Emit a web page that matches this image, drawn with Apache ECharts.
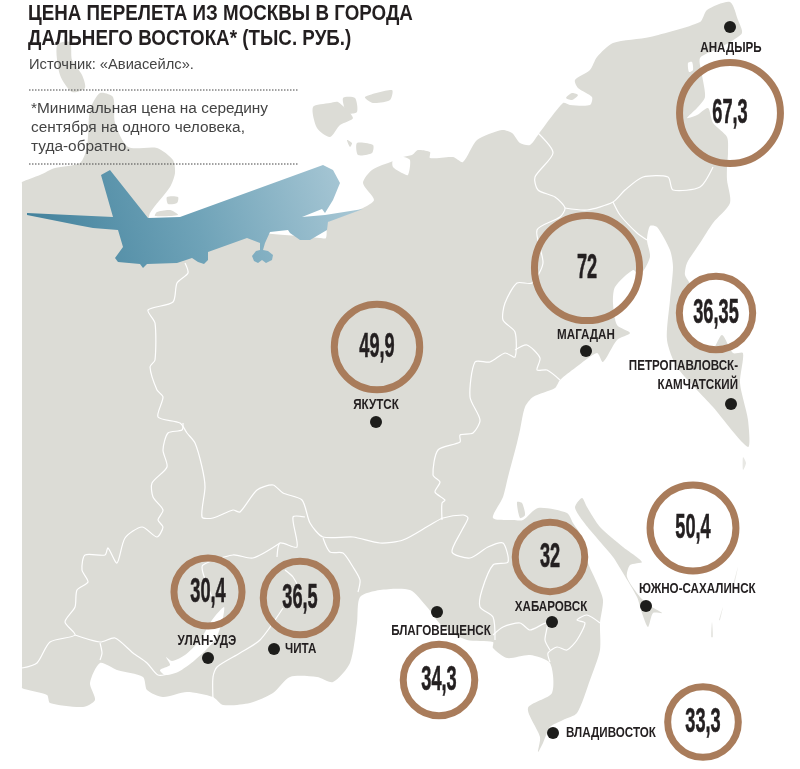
<!DOCTYPE html>
<html><head><meta charset="utf-8">
<style>html,body{margin:0;padding:0;background:#fff}#c{width:800px;height:769px}</style>
<script src="https://cdn.jsdelivr.net/npm/echarts@6/dist/echarts.min.js"></script>
</head><body><div id="c"></div>
<script>
// ---- data ----
const cities = ['АНАДЫРЬ','МАГАДАН','ПЕТРОПАВЛОВСК-\nКАМЧАТСКИЙ','ЯКУТСК','УЛАН-УДЭ','ЧИТА','БЛАГОВЕЩЕНСК','ХАБАРОВСК','ЮЖНО-САХАЛИНСК','ВЛАДИВОСТОК'];
const prices = [67.3,72,36.35,49.9,30.4,36.5,34.3,32,50.4,33.3];
const priceLabels = ['67,3','72','36,35','49,9','30,4','36,5','34,3','32','50,4','33,3'];
const cityMapX = [730,586,731,376,208,274,437,552,646,553];
const cityMapY = [27,351,404,422,658,649,612,622,606,733];
const ringMapX = [730,587,716,377,208,300,439,550,693,703];
const ringMapY = [113,268,313,347,592,598,680,557,528,722];
const nameMapX = [731,586,738,376,207,285,441,551,639,566];
const nameMapY = [48,335,376,405,641,649,631,607,589,733];
const nameAlign = ['center','center','right','center','center','left','center','center','left','left'];

// ---- map geometry (map units) ----
const landMain = [[22,184],[22,182],[40,175],[55,168],[80,163],[87,147],[90,110],[100,93],[113,97],[115,123],[128,147],[157,148],[173,160],[175,173],[170,187],[150,213],[150,222],[320,238],[326,238],[328,222],[345,215],[363,208],[374,200],[363,183],[372,170],[393,161],[403,157],[412,155],[418,150],[430,152],[430,158],[453,157],[463,162],[477,140],[502,130],[512,133],[520,143],[530,145],[540,132],[563,103],[570,105],[590,105],[592,97],[578,88],[575,80],[590,70],[597,57],[613,43],[650,37],[700,22],[707,10],[730,2],[738,20],[742,33],[730,42],[715,50],[700,58],[702,75],[705,97],[697,108],[687,118],[697,115],[708,108],[713,123],[727,137],[728,153],[727,167],[727,180],[730,203],[713,223],[700,243],[687,263],[685,275],[690,285],[680,300],[678,315],[682,330],[695,344],[712,350],[722,335],[733,353],[743,353],[740,383],[748,420],[748,447],[713,407],[677,367],[667,340],[670,300],[673,267],[670,250],[657,227],[650,226],[647,240],[650,257],[640,275],[633,270],[615,287],[613,303],[617,325],[630,333],[617,340],[603,362],[597,353],[575,368],[560,380],[555,388],[533,397],[525,407],[520,430],[517,443],[508,477],[503,497],[493,518],[513,520],[523,520],[538,508],[567,513],[573,523],[582,537],[588,563],[597,583],[603,600],[600,623],[600,650],[590,680],[577,713],[563,720],[550,727],[543,743],[538,752],[540,737],[528,708],[552,693],[550,663],[530,655],[507,658],[493,648],[493,642],[467,640],[443,627],[427,607],[410,590],[380,590],[360,597],[357,623],[350,663],[333,682],[317,677],[290,677],[273,693],[250,703],[223,705],[213,697],[187,692],[163,697],[147,690],[143,677],[117,670],[100,663],[90,683],[95,700],[83,707],[50,703],[47,695],[24,689],[22,688],[22,686],[22,670],[22,640],[22,600],[22,540],[22,480],[22,420],[22,360],[22,300],[22,240],[22,200]];
const landSakhalin = [[575,507],[582,498],[587,507],[600,527],[623,547],[642,562],[630,565],[627,577],[640,597],[652,607],[662,613],[653,613],[648,627],[642,613],[637,597],[623,573],[613,557],[590,530],[580,517]];
const islands = [
 [[57,45],[70,42],[72,60],[82,75],[85,88],[72,92],[60,75]],
 [[365,97],[392,90],[390,100],[373,103]],
 [[343,98],[355,98],[357,112],[347,113]],
 [[313,107],[330,103],[338,102],[353,118],[340,125],[330,137],[317,128]],
 [[357,143],[373,145],[372,153],[358,155]],
 [[347,140],[352,143],[350,147]],
 [[167,197],[178,197],[177,203],[168,204]],
 [[157,212],[170,210],[178,215],[155,216]],
 [[517,502],[522,503],[525,515],[520,518]],
 [[566,98],[572,93],[578,95],[572,100]]
];
const faintIslands = [
 [[743,457],[746,463],[743,470]],
 [[738,567],[734,585],[733,585]],
 [[723,607],[720,620],[719,620]],
 [[712,622],[713,637],[711,637]]
];
const waterSpots = [
 [[160,670],[165,675],[178,672],[195,660],[215,640],[222,622],[224,607],[212,620],[200,640],[185,655],[172,661],[166,657],[170,665]],
 [[393,160],[403,157],[410,160],[408,175],[402,173],[393,167]],
 [[688,63],[692,62],[693,70],[689,72]]
];
const borders = [
 [[185,263],[188,273],[177,283],[173,302],[148,310],[155,323],[155,360],[150,367],[157,390],[163,397],[158,417],[180,423],[187,433],[195,443],[202,467],[205,487],[202,517],[213,518],[233,510],[240,512],[257,490],[273,485],[283,493],[302,500],[310,523],[323,537],[353,537],[380,543],[403,540],[430,525],[443,518],[463,515],[468,518],[462,530],[452,552],[470,558],[488,547],[503,543],[508,562],[493,565],[482,590],[480,607],[493,617],[495,640]],
 [[442,520],[442,503],[445,500],[435,492],[440,482],[433,475],[438,450],[460,442],[460,435],[473,433],[480,420],[470,397],[475,362],[490,362],[505,353],[515,357],[515,332],[503,320],[505,303],[517,283],[532,283],[543,263],[537,230],[560,217],[565,208],[555,197],[538,190],[535,177],[553,153],[538,133]],
 [[515,350],[527,345],[540,358],[537,370],[547,370],[560,380]],
 [[565,208],[587,210],[613,202],[625,190],[643,177],[668,177],[673,190],[700,187],[713,167]],
 [[613,202],[620,215],[637,233],[647,240]],
 [[183,423],[182,430],[168,433],[163,450],[167,467],[152,483],[153,497],[163,510],[158,520],[163,527],[157,537],[142,527],[125,538],[117,563],[108,548],[105,555],[85,555],[82,570],[88,582],[77,590],[75,607],[65,622],[75,635],[50,642],[37,663],[22,668]],
 [[75,635],[100,642],[115,638],[133,653],[147,663],[158,675],[172,673]],
 [[100,643],[102,653],[100,660]],
 [[213,700],[213,677],[217,667],[240,653],[260,640],[283,608]],
 [[285,570],[293,577],[300,590]],
 [[277,557],[280,543],[297,547],[293,517],[305,517]],
 [[280,543],[253,558],[233,555],[203,565],[203,573],[213,600]],
 [[323,538],[330,552],[343,553],[353,567],[360,580],[358,592]],
 [[600,623],[587,615],[577,620],[585,623],[577,640],[567,650],[557,647],[548,653],[550,662]],
 [[493,635],[503,627],[520,623],[530,630],[547,623],[545,640],[550,650]]
];
const planeShape = [[101,175],[110,170],[148,218],[180,217],[323,165],[333,170],[340,183],[333,200],[325,213],[322,209],[302,217],[325,215],[363,209],[328,222],[327,230],[310,240],[300,240],[290,233],[288,230],[270,232],[265,243],[263,250],[268,251],[273,255],[272,260],[266,263],[262,260],[258,263],[254,261],[252,256],[256,251],[260,250],[260,243],[247,238],[208,252],[208,260],[204,264],[198,262],[192,258],[177,263],[147,264],[143,268],[140,264],[118,262],[115,258],[123,247],[118,230],[93,228],[77,225],[27,215],[27,213],[113,217]];

// ---- render ----
const chart = echarts.init(document.getElementById('c'), null, {renderer:'canvas'});
const LAND='#dcdcd6', RING='#a97c5b', INK='#231f20';
const SANS='"Liberation Sans",Arial,sans-serif';
const polys=[...[landMain,landSakhalin,...islands].map(p=>({p,fill:LAND})),
  ...faintIslands.map(p=>({p,fill:'#e8e8e4'})),
  ...waterSpots.map(p=>({p,fill:'#fff'}))];
const poly=(list,render)=>({type:'custom',coordinateSystem:'cartesian2d',silent:true,clip:false,data:list.map((_,i)=>[i]),encode:{x:0,y:0},renderItem:render});
const toPts=(p,api)=>p.map(q=>api.coord(q));
chart.setOption({
  animation:false,backgroundColor:'#fff',
  grid:{left:0,right:0,top:0,bottom:0},
  xAxis:{type:'value',min:0,max:800,show:false},
  yAxis:{type:'value',min:0,max:769,inverse:true,show:false},
  graphic:[
    {type:'text',x:28,y:1,scaleX:0.854,z:20,style:{text:'ЦЕНА ПЕРЕЛЕТА ИЗ МОСКВЫ В ГОРОДА\nДАЛЬНЕГО ВОСТОКА* (ТЫС. РУБ.)',font:'bold 22px '+SANS,lineHeight:25,fill:INK}},
    {type:'text',x:29,y:57,z:20,style:{text:'Источник: «Авиасейлс».',font:'14.7px '+SANS,fill:'#444'}},
    {type:'text',x:31,y:99,z:20,style:{text:'*Минимальная цена на середину\nсентября на одного человека,\nтуда-обратно.',font:'15.4px '+SANS,lineHeight:19,fill:'#444'}},
    {type:'line',z:20,shape:{x1:29,y1:90,x2:299,y2:90},style:{stroke:'#444',lineWidth:1,lineDash:[1.5,1.5]}},
    {type:'line',z:20,shape:{x1:29,y1:164,x2:299,y2:164},style:{stroke:'#444',lineWidth:1,lineDash:[1.5,1.5]}}
  ],
  series:[
    Object.assign(poly(polys,(params,api)=>{const o=polys[params.dataIndex];
      return {type:'polygon',shape:{points:toPts(o.p,api),smooth:0.25},style:{fill:o.fill}};}),{z:1,name:'land'}),
    Object.assign(poly(borders,(params,api)=>({type:'polyline',shape:{points:toPts(borders[params.dataIndex],api),smooth:0.25},style:{fill:'none',stroke:'#fff',lineWidth:1.2}})),{z:2,name:'borders'}),
    Object.assign(poly([planeShape],(params,api)=>({type:'polygon',shape:{points:toPts(planeShape,api)},
      style:{fill:new echarts.graphic.LinearGradient(0,1,1,0,[{offset:0,color:'#3f7f9a'},{offset:.5,color:'#6fa3b8'},{offset:1,color:'#aecbd8'}])}})),{z:3,name:'plane'}),
    {type:'scatter',name:'rings',z:4,silent:true,data:prices.map((v,i)=>[ringMapX[i],ringMapY[i],v]),
      symbol:'circle',symbolSize:d=>41+0.89*d[2],itemStyle:{color:'rgba(0,0,0,0)',borderColor:RING,borderWidth:7,opacity:1}},
    {type:'scatter',name:'cities',z:5,silent:true,data:cities.map((n,i)=>[cityMapX[i],cityMapY[i]]),
      symbol:'circle',symbolSize:12,itemStyle:{color:'#1d1d1b',opacity:1}},
    {type:'custom',name:'prices',z:6,silent:true,clip:false,coordinateSystem:'cartesian2d',
      data:prices.map((v,i)=>[ringMapX[i],ringMapY[i]]),encode:{x:0,y:1},
      renderItem:(params,api)=>{const p=api.coord([api.value(0),api.value(1)]);
        return {type:'text',x:p[0],y:p[1],scaleX:0.52,style:{text:priceLabels[params.dataIndex],textAlign:'center',textVerticalAlign:'middle',font:'bold 35px '+SANS,fill:INK,stroke:INK,lineWidth:0.6}};}},
    {type:'custom',name:'names',z:7,silent:true,clip:false,coordinateSystem:'cartesian2d',
      data:cities.map((n,i)=>[nameMapX[i],nameMapY[i]]),encode:{x:0,y:1},
      renderItem:(params,api)=>{const p=api.coord([api.value(0),api.value(1)]);
        return {type:'text',x:p[0],y:p[1],scaleX:0.83,style:{text:cities[params.dataIndex],textAlign:nameAlign[params.dataIndex],textVerticalAlign:'middle',font:'bold 14px '+SANS,lineHeight:19,fill:INK}};}}
  ]
});
</script></body></html>
